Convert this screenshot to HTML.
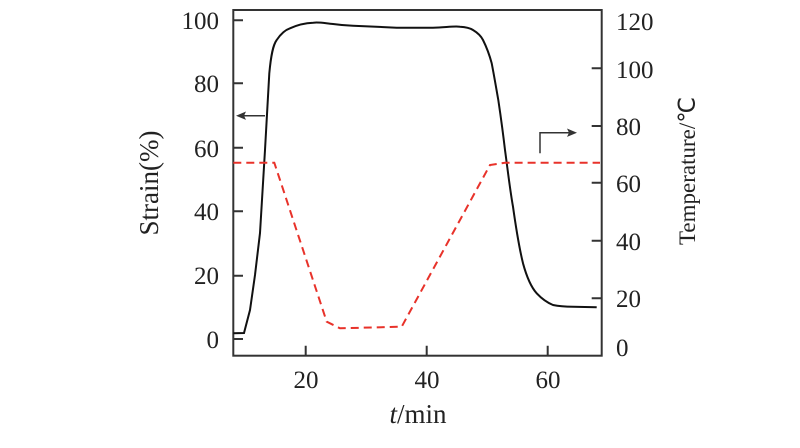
<!DOCTYPE html>
<html><head><meta charset="utf-8"><style>
html,body{margin:0;padding:0;background:#fff;}
svg text{font-family:"Liberation Serif",serif;fill:#222;}
</style></head><body>
<svg width="800" height="443" xmlns="http://www.w3.org/2000/svg">
<rect width="800" height="443" fill="#fff"/>
<g stroke="#333" stroke-width="2" fill="none">
<rect x="233.3" y="10" width="368.4" height="345.7"/>
<path d="M233 20.3h10M233 83.3h10M233 147.7h10M233 211.3h10M233 275.7h10M233 339h10"/>
<path d="M601.7 68.3h-10M601.7 126h-10M601.7 182.7h-10M601.7 240.7h-10M601.7 298.3h-10"/>
<path d="M305.7 355.7v-10M426.7 355.7v-10M547.7 355.7v-10"/>
</g>
<g font-size="25" text-anchor="end">
<text x="219" y="29">100</text><text x="219" y="92">80</text><text x="219" y="157">60</text>
<text x="219" y="220">40</text><text x="219" y="284">20</text><text x="219" y="348">0</text>
</g>
<g font-size="25">
<text x="616" y="30">120</text><text x="616" y="78">100</text><text x="616" y="135">80</text>
<text x="616" y="192">60</text><text x="616" y="250">40</text><text x="616" y="307">20</text><text x="616" y="356">0</text>
</g>
<g text-anchor="middle">
<g font-size="25"><text x="306" y="388">20</text><text x="427" y="388">40</text><text x="548" y="388">60</text></g>
<text x="418" y="423" font-size="27"><tspan font-style="italic">t</tspan>/min</text>
<text transform="translate(158,183) rotate(-90)" font-size="27">Strain(%)</text>
<text transform="translate(695,171) rotate(-90)" font-size="23">Temperature/℃</text>
</g>
<path d="M233.3 333.3L244 333L250 310L255 275L260 233L265 150L269.3 73.3C271 55 273 45 276.7 40C280 35 285 30 290 28.3C297 25 305 23 313.3 22.7C320 22 326 23.5 333 24C340 25 346 25.5 353 25.7L396.7 27.7L433 27.7C445 27.5 453 26 460 26.7C466 27 470 28 473 30C478 33 481 36 483 40C487 48 489.5 55 491.7 63.3C494 75 496 87 498.3 100C501 118 503 133 505 150C508 172 510 190 513 206.7C516 228 519 247 523 263.3C527 278 531 287 536.7 293.3C542 299 547 302.5 553 305C560 306.5 566 306.7 573 306.7L596.7 307.3" fill="none" stroke="#111" stroke-width="2"/>
<path d="M233.3 162.7L274.3 162.7L326.7 321.7L340 328.3L401.7 326.7L490 165L505 162.7L600 162.7" fill="none" stroke="#e8322a" stroke-width="2" stroke-dasharray="8,5"/>
<g stroke="#333" stroke-width="1.5" fill="none">
<path d="M265 115.7H242"/>
<path d="M540 153.3V132.7H570"/>
</g>
<g fill="#333">
<path d="M236 115.7L246 111.5L244 115.7L246 119.9Z"/>
<path d="M577 132.7L567 128.5L569 132.7L567 136.9Z"/>
</g>
</svg>
</body></html>
